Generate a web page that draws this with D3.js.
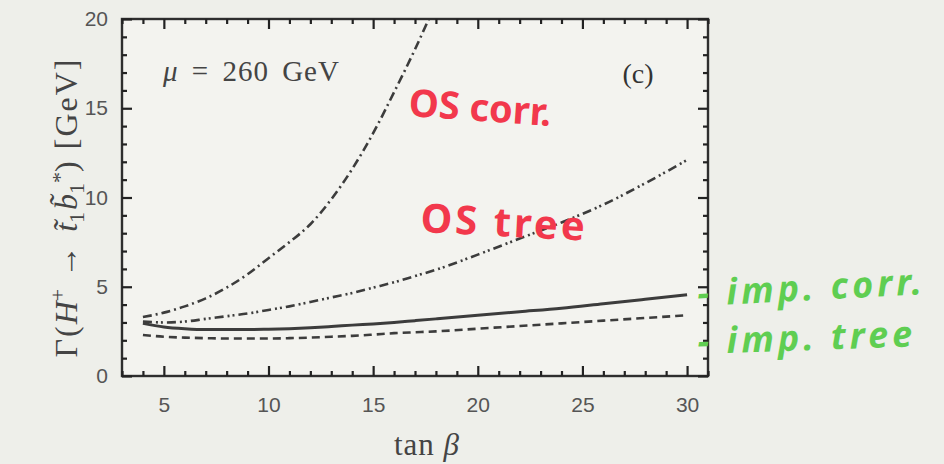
<!DOCTYPE html>
<html>
<head>
<meta charset="utf-8">
<script src="https://cdn.jsdelivr.net/npm/d3@7"></script>
<style>
  body { margin: 0; background: #eeefea; }
  svg { display: block; }
</style>
</head>
<body>
<div id="chart"></div>
<script>
// data
var tanBeta = [4, 5, 6, 7, 8, 9, 10, 11, 12, 13, 14, 15, 16, 17, 18, 20, 22, 24, 26, 28, 30];
var osCorr = [3.3, 3.55, 3.9, 4.35, 4.95, 5.7, 6.6, 7.5, 8.5, 9.9, 11.6, 13.6, 15.9, 18.3, 20.9, null, null, null, null, null, null];
var osTree = [3.05, 3.0, 3.05, 3.2, 3.35, 3.5, 3.7, 3.9, 4.15, 4.4, 4.65, 4.95, 5.25, 5.6, 5.95, 6.8, 7.7, 8.6, 9.6, 10.8, 12.1];
var impCorr = [2.95, 2.75, 2.65, 2.6, 2.6, 2.6, 2.62, 2.65, 2.7, 2.77, 2.85, 2.92, 3.0, 3.1, 3.2, 3.4, 3.6, 3.8, 4.05, 4.3, 4.55];
var impTree = [2.3, 2.2, 2.15, 2.12, 2.1, 2.1, 2.1, 2.12, 2.15, 2.2, 2.25, 2.32, 2.4, 2.45, 2.5, 2.65, 2.8, 2.95, 3.1, 3.25, 3.4];
var xTicks = [5, 10, 15, 20, 25, 30];
var yTicks = [0, 5, 10, 15, 20];

var svgWidth = 944;
var svgHeight = 464;

var margin = {
    top: 19,
    bottom: 88,
    right: 236,
    left: 122
}

var chartHeight = svgHeight - margin.top - margin.bottom;
var chartWidth = svgWidth - margin.left - margin.right;

var svg = d3.select('#chart')
    .append('svg')
    .attr('height', svgHeight)
    .attr('width', svgWidth)

svg.append('rect')
    .attr('width', svgWidth)
    .attr('height', svgHeight)
    .attr('fill', '#eeefea')

var chartGroup = svg.append('g')
    .attr('transform', `translate(${margin.left},${margin.top})`);

var xLinearScale = d3.scaleLinear().domain([3, 31]).range([0, chartWidth]);
var yLinearScale = d3.scaleLinear().domain([0, 20]).range([chartHeight, 0]);

// plot area
chartGroup.append('rect')
    .attr('width', chartWidth)
    .attr('height', chartHeight)
    .attr('fill', '#f3f3ef')

svg.append('clipPath')
    .attr('id', 'clip')
    .append('rect')
    .attr('width', chartWidth)
    .attr('height', chartHeight)

// curves
var lineGroup = chartGroup.append('g').attr('clip-path', 'url(#clip)');

function drawCurve(values, dash, width) {
    var pts = tanBeta.map((t, i) => [t, values[i]]).filter(p => p[1] !== null);
    lineGroup.append('path')
        .datum(pts)
        .attr('d', d3.line()
            .x(d => xLinearScale(d[0]))
            .y(d => yLinearScale(d[1]))
            .curve(d3.curveMonotoneX))
        .attr('fill', 'none')
        .attr('stroke', '#3c3c3c')
        .attr('stroke-width', width)
        .attr('stroke-dasharray', dash)
}
drawCurve(osCorr, '9,4,2,4', 2.6);
drawCurve(osTree, '9,4,2,3,2,4', 2.6);
drawCurve(impCorr, null, 3);
drawCurve(impTree, '8,5', 2.6);

// frame
chartGroup.append('rect')
    .attr('width', chartWidth)
    .attr('height', chartHeight)
    .attr('fill', 'none')
    .attr('stroke', '#2e2e2e')
    .attr('stroke-width', 2.4)

// ticks on all four sides, pointing inwards
var xMinor = d3.range(3, 32, 1).filter(d => xTicks.indexOf(d) < 0);
var yMinor = d3.range(1, 20, 1).filter(d => yTicks.indexOf(d) < 0);

function styleAxis(g) {
    g.select('.domain').remove();
    g.selectAll('.tick line')
        .attr('stroke', '#222')
        .attr('stroke-width', 2.2)
        .style('stroke', '#222');
    g.selectAll('.tick text')
        .attr('font-family', 'Liberation Sans, Arial, sans-serif')
        .attr('font-size', '21px')
        .attr('fill', '#555');
}

function addAxis(axis, tr) {
    chartGroup.append('g')
        .attr('transform', tr)
        .call(axis)
        .call(styleAxis);
}

addAxis(d3.axisBottom(xLinearScale).tickValues(xTicks).tickSizeInner(-10).tickSizeOuter(0).tickPadding(21), `translate(0,${chartHeight})`);
addAxis(d3.axisBottom(xLinearScale).tickValues(xMinor).tickSizeInner(-5).tickSizeOuter(0).tickFormat(''), `translate(0,${chartHeight})`);
addAxis(d3.axisTop(xLinearScale).tickValues(xTicks).tickSizeInner(-10).tickSizeOuter(0).tickFormat(''), 'translate(0,0)');
addAxis(d3.axisTop(xLinearScale).tickValues(xMinor).tickSizeInner(-5).tickSizeOuter(0).tickFormat(''), 'translate(0,0)');
addAxis(d3.axisLeft(yLinearScale).tickValues(yTicks).tickSizeInner(-10).tickSizeOuter(0).tickPadding(14), 'translate(0,0)');
addAxis(d3.axisLeft(yLinearScale).tickValues(yMinor).tickSizeInner(-5).tickSizeOuter(0).tickFormat(''), 'translate(0,0)');
addAxis(d3.axisRight(yLinearScale).tickValues(yTicks).tickSizeInner(-10).tickSizeOuter(0).tickFormat(''), `translate(${chartWidth},0)`);
addAxis(d3.axisRight(yLinearScale).tickValues(yMinor).tickSizeInner(-5).tickSizeOuter(0).tickFormat(''), `translate(${chartWidth},0)`);

// in-plot labels
var serif = 'Liberation Serif, Times New Roman, serif';
var mu = chartGroup.append('text')
    .attr('x', 41)
    .attr('y', 62)
    .attr('font-family', serif)
    .attr('font-size', '29px')
    .attr('letter-spacing', '1px')
    .attr('word-spacing', '5px')
    .attr('fill', '#444')
mu.append('tspan').attr('font-style', 'italic').text('μ');
mu.append('tspan').text(' = 260 GeV');

chartGroup.append('text')
    .attr('x', 516)
    .attr('y', 64)
    .attr('text-anchor', 'middle')
    .attr('font-family', serif)
    .attr('font-size', '28px')
    .attr('fill', '#333')
    .text('(c)')

// axis titles
var xTitle = svg.append('text')
    .attr('x', 427)
    .attr('y', 455)
    .attr('text-anchor', 'middle')
    .attr('font-family', serif)
    .attr('font-size', '31px')
    .attr('letter-spacing', '1px')
    .attr('fill', '#444')
xTitle.append('tspan').text('tan ');
xTitle.append('tspan').attr('font-style', 'italic').text('β');

var yTitle = svg.append('text')
    .attr('transform', `translate(77,${margin.top + chartHeight / 2 + 10}) rotate(-90)`)
    .attr('text-anchor', 'middle')
    .attr('font-family', serif)
    .attr('font-size', '32px')
    .attr('fill', '#444')
yTitle.append('tspan').attr('letter-spacing', '2px').text('Γ(');
yTitle.append('tspan').attr('font-style', 'italic').text('H');
yTitle.append('tspan').attr('font-size', '22px').attr('dy', -12).text('+');
yTitle.append('tspan').attr('dy', 12).attr('letter-spacing', '3px').text(' → ');
yTitle.append('tspan').attr('font-style', 'italic').text('t̃');
yTitle.append('tspan').attr('font-size', '22px').attr('dy', 7).text('1');
yTitle.append('tspan').attr('dy', -7).attr('dx', 2).attr('font-style', 'italic').text('b̃');
yTitle.append('tspan').attr('font-size', '22px').attr('dy', 7).text('1');
yTitle.append('tspan').attr('font-size', '22px').attr('dy', -17).text('*');
yTitle.append('tspan').attr('dy', 10).attr('letter-spacing', '2px').text(') [GeV]');

// handwritten notes
var hand = 'Noto Sans, sans-serif';
svg.append('text')
    .attr('x', 408)
    .attr('y', 116)
    .attr('font-family', hand)
    .attr('font-weight', 'bold')
    .attr('font-size', '38px')
    .attr('fill', '#f2384c')
    .attr('transform', 'rotate(4,408,116)')
    .text('OS corr.')

svg.append('text')
    .attr('x', 420)
    .attr('y', 232)
    .attr('font-family', hand)
    .attr('font-weight', 'bold')
    .attr('font-size', '40px')
    .attr('letter-spacing', '3px')
    .attr('fill', '#f2384c')
    .attr('transform', 'rotate(3,420,232)')
    .text('OS tree')

svg.append('text')
    .attr('x', 698)
    .attr('y', 306)
    .attr('font-family', hand)
    .attr('font-style', 'italic')
    .attr('font-weight', 'bold')
    .attr('font-size', '36px')
    .attr('letter-spacing', '4px')
    .attr('fill', '#5fce52')
    .attr('transform', 'rotate(-3,698,306)')
    .text('- imp. corr.')

svg.append('text')
    .attr('x', 698)
    .attr('y', 354)
    .attr('font-family', hand)
    .attr('font-style', 'italic')
    .attr('font-weight', 'bold')
    .attr('font-size', '36px')
    .attr('letter-spacing', '4px')
    .attr('fill', '#5fce52')
    .attr('transform', 'rotate(-2,698,354)')
    .text('- imp. tree')
</script>
</body>
</html>
